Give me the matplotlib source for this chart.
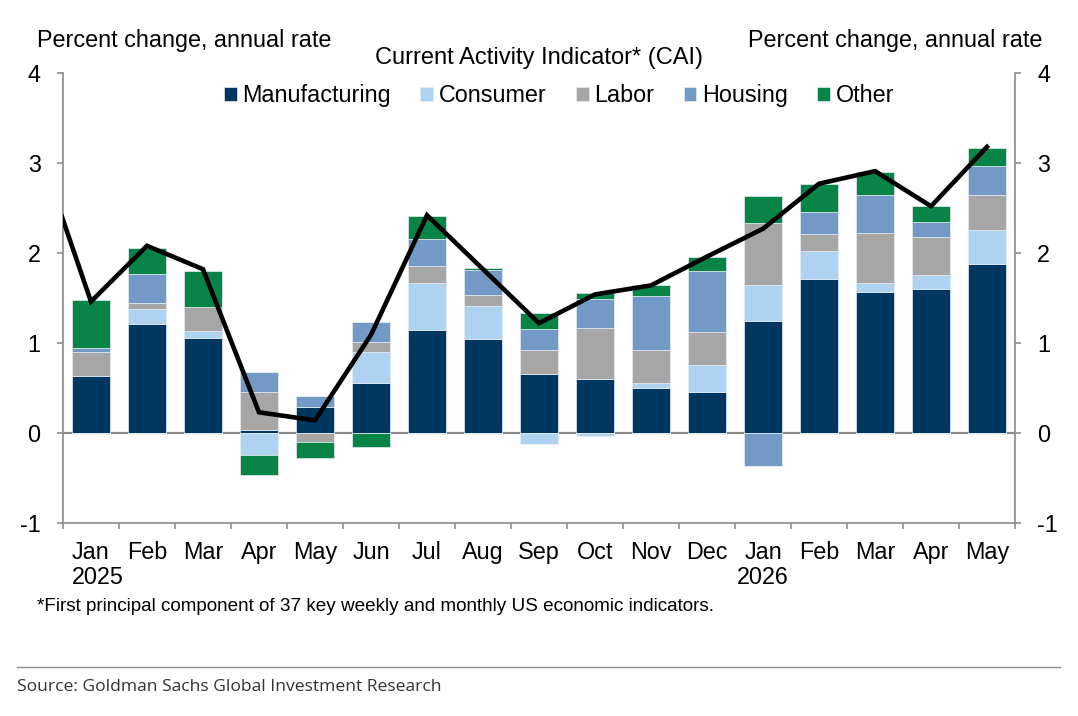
import matplotlib
matplotlib.use("Agg")
import matplotlib.pyplot as plt
import matplotlib.transforms as mtransforms
from matplotlib.ticker import FixedLocator
import numpy as np

plt.rcParams['font.family'] = ['Liberation Sans', 'DejaVu Sans']

months = ["Jan", "Feb", "Mar", "Apr", "May", "Jun", "Jul", "Aug", "Sep", "Oct",
          "Nov", "Dec", "Jan", "Feb", "Mar", "Apr", "May"]
years = {0: "2025", 12: "2026"}

series_names = ["Manufacturing", "Consumer", "Labor", "Housing", "Other"]
manufacturing = [0.63, 1.21, 1.06, 0.03, 0.29, 0.56, 1.14, 1.04, 0.66, 0.60, 0.50, 0.46, 1.24, 1.71, 1.57, 1.60, 1.88]
consumer      = [0.00, 0.17, 0.07, -0.24, 0.00, 0.34, 0.53, 0.37, -0.12, -0.03, 0.05, 0.29, 0.40, 0.31, 0.10, 0.16, 0.38]
labor         = [0.27, 0.06, 0.27, 0.43, -0.10, 0.11, 0.19, 0.12, 0.26, 0.57, 0.37, 0.37, 0.69, 0.19, 0.55, 0.42, 0.39]
housing       = [0.04, 0.33, 0.00, 0.22, 0.12, 0.22, 0.30, 0.28, 0.24, 0.32, 0.60, 0.68, -0.37, 0.25, 0.42, 0.16, 0.32]
other         = [0.54, 0.29, 0.40, -0.23, -0.18, -0.16, 0.25, 0.02, 0.17, 0.07, 0.12, 0.16, 0.30, 0.31, 0.26, 0.18, 0.20]

# CAI line; first value is Dec 2024 (just outside the plotted range)
cai_months_idx = list(range(-1, 17))
cai = [3.28, 1.46, 2.08, 1.82, 0.23, 0.14, 1.09, 2.42, 1.82, 1.22, 1.54, 1.64, 1.96, 2.27, 2.77, 2.91, 2.52, 3.18]

colors = ["#003761", "#ADD3F0", "#A6A6A6", "#7399C6", "#088446"]

FS = 16.8

fig = plt.figure(figsize=(10.78, 7.16), dpi=100)
ax = fig.add_axes([0.0584, 0.2696, 0.8832, 0.6284])

x = np.arange(len(months))
width = 0.67
pos_base = np.zeros(len(months))
neg_base = np.zeros(len(months))
for name, vals, col in zip(series_names, [manufacturing, consumer, labor, housing, other], colors):
    v = np.array(vals)
    pos = np.where(v > 0, v, 0)
    neg = np.where(v < 0, v, 0)
    ax.bar(x, pos, width, bottom=pos_base, color=col, edgecolor="#e6edf5", linewidth=0.5, label=name, zorder=2)
    ax.bar(x, neg, width, bottom=neg_base, color=col, edgecolor="#e6edf5", linewidth=0.5, zorder=2)
    pos_base += pos
    neg_base += neg

ax.axhline(0, color="#8c8c8c", linewidth=1.6, zorder=1.5)
ax.plot(cai_months_idx, cai, color="black", linewidth=3.3, solid_joinstyle="miter", zorder=4)

ax.set_xlim(-0.5, 16.5)
ax.set_ylim(-1, 4)

ax.spines["top"].set_visible(False)
for s in ["left", "right", "bottom"]:
    ax.spines[s].set_color("#8c8c8c")
    ax.spines[s].set_linewidth(1.2)

ax.set_yticks([-1, 0, 1, 2, 3, 4])
ax.set_yticklabels(["-1", "0", "1", "2", "3", "4"])
ax.tick_params(axis="y", which="both", left=True, right=True, labelleft=True, labelright=True,
               direction="out", length=4, width=1.2, color="#8c8c8c", pad=12, labelsize=FS)

ax.set_xticks(x)
ax.set_xticklabels(months)
ax.xaxis.set_minor_locator(FixedLocator(np.arange(-0.5, 17, 1.0)))
ax.tick_params(axis="x", which="major", length=0, pad=13, labelsize=FS)
ax.tick_params(axis="x", which="minor", length=4, width=1.2, color="#8c8c8c", direction="out")

trans = mtransforms.blended_transform_factory(ax.transData, ax.transAxes)
ax.text(-0.34, -0.122, years[0], transform=trans, ha="left", va="center", fontsize=FS)
ax.text(12, -0.122, years[12], transform=trans, ha="center", va="center", fontsize=FS)

fig.text(0.0343, 0.944, "Percent change, annual rate", ha="left", va="center", fontsize=FS)
fig.text(0.9666, 0.944, "Percent change, annual rate", ha="right", va="center", fontsize=FS)
fig.text(0.5, 0.919, "Current Activity Indicator* (CAI)", ha="center", va="center", fontsize=17)

leg = fig.legend(loc="center", bbox_to_anchor=(0.5186, 0.866), ncol=5, frameon=False,
                 fontsize=FS, handlelength=0.55, handleheight=0.55, handletextpad=0.25,
                 columnspacing=1.25, borderpad=0, borderaxespad=0)

fig.text(0.0343, 0.1536, "*First principal component of 37 key weekly and monthly US economic indicators.",
         ha="left", va="center", fontsize=13.6)

fig.add_artist(plt.Line2D([0.0158, 0.983], [0.0684, 0.0684], transform=fig.transFigure,
                          color="#8c8c8c", linewidth=1.0))
fig.text(0.0158, 0.0405, "Source: Goldman Sachs Global Investment Research", ha="left", va="center",
         fontsize=12.6, family=["Open Sans", "DejaVu Sans"], color="#333333")

fig.savefig("out.png", dpi=100)
